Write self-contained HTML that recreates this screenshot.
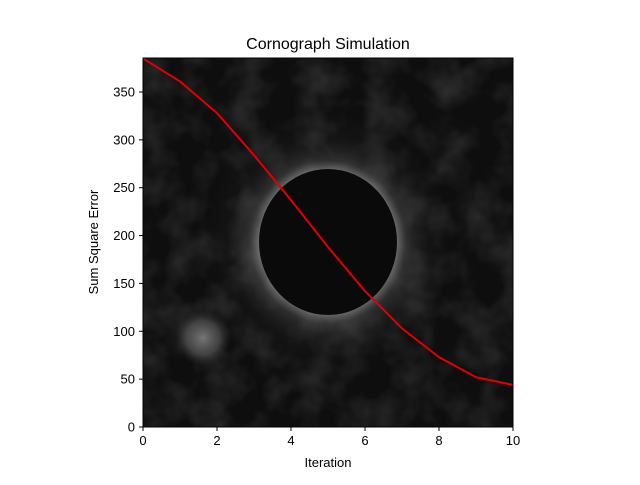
<!DOCTYPE html>
<html><head><meta charset="utf-8"><style>
body{margin:0;background:#fff;}
svg text{font-family:"Liberation Sans","DejaVu Sans",sans-serif;fill:#000;}
</style></head><body>
<svg id="chart" width="640" height="480">
<defs>
<filter id="noise" x="0" y="0" width="100%" height="100%">
<feTurbulence type="fractalNoise" baseFrequency="0.03" numOctaves="3" seed="4"/>
<feColorMatrix type="matrix" values="0 0 0 0 0.3  0 0 0 0 0.3  0 0 0 0 0.3  0 0 0 1.2 -0.45"/>
</filter>
<radialGradient id="halo" cx="50%" cy="50%" r="50%">
<stop offset="0.55" stop-color="#999" stop-opacity="0.6"/>
<stop offset="0.62" stop-color="#777" stop-opacity="0.3"/>
<stop offset="0.8" stop-color="#444" stop-opacity="0.1"/>
<stop offset="1" stop-color="#333" stop-opacity="0"/>
</radialGradient>
<radialGradient id="blob" cx="50%" cy="50%" r="50%">
<stop offset="0" stop-color="#777"/>
<stop offset="0.6" stop-color="#555" stop-opacity="0.7"/>
<stop offset="1" stop-color="#333" stop-opacity="0"/>
</radialGradient>
<clipPath id="plotclip"><rect x="143" y="58" width="370" height="369"/></clipPath>
</defs>
<g clip-path="url(#plotclip)">
<rect x="143" y="58" width="370" height="369" fill="#0e0e0e"/>
<rect x="143" y="58" width="370" height="369" filter="url(#noise)" opacity="0.35"/>
<ellipse cx="328" cy="242" rx="126" ry="132" fill="url(#halo)"/>
<ellipse cx="328" cy="242" rx="69" ry="73" fill="#0a0a0a"/>
<circle cx="203" cy="338" r="28" fill="url(#blob)"/>
</g>
<g id="ticks"></g>
<path id="line" fill="none" stroke="#e00000" stroke-width="2" clip-path="url(#plotclip)"/>
<rect x="143" y="58" width="370" height="369" fill="none" stroke="#000" stroke-width="1"/>
<text x="328" y="49" font-size="16" text-anchor="middle">Cornograph Simulation</text>
<text x="328" y="467" font-size="13" text-anchor="middle">Iteration</text>
<text transform="translate(98,242) rotate(-90)" font-size="13" text-anchor="middle">Sum Square Error</text>
</svg>
<script>
const iterations=[0,1,2,3,4,5,6,7,8,9,10];
const errors=[385,361,328,284,237,188,142,103,73,52,44];
const xTicks=[0,2,4,6,8,10];
const yTicks=[0,50,100,150,200,250,300,350];
const X0=143,X1=513,Y0=427,Y1=58,XMAX=10,YMAX=385.5;
const sx=v=>X0+(v/XMAX)*(X1-X0);
const sy=v=>Y0-(v/YMAX)*(Y0-Y1);
const ns="http://www.w3.org/2000/svg";
const g=document.getElementById('ticks');
xTicks.forEach(t=>{
 const l=document.createElementNS(ns,'line');
 l.setAttribute('x1',sx(t));l.setAttribute('x2',sx(t));l.setAttribute('y1',Y0);l.setAttribute('y2',Y0+4);l.setAttribute('stroke','#000');
 
 
 g.appendChild(l);
 const tx=document.createElementNS(ns,'text');
 tx.setAttribute('x',sx(t));tx.setAttribute('y',Y0+18);tx.setAttribute('font-size','13');tx.setAttribute('text-anchor','middle');tx.textContent=t;
 
 
 g.appendChild(tx);
});
yTicks.forEach(t=>{
 const l=document.createElementNS(ns,'line');
 l.setAttribute('x1',X0-4);l.setAttribute('x2',X0);l.setAttribute('y1',sy(t));l.setAttribute('y2',sy(t));l.setAttribute('stroke','#000');
 
 
 g.appendChild(l);
 const tx=document.createElementNS(ns,'text');
 tx.setAttribute('x',X0-8);tx.setAttribute('y',sy(t)+4.5);tx.setAttribute('font-size','13');tx.setAttribute('text-anchor','end');tx.textContent=t;
 
 
 g.appendChild(tx);
});
document.getElementById('line').setAttribute('d',iterations.map((x,i)=>(i?'L':'M')+sx(x)+','+sy(errors[i])).join(' '));
</script>
</body></html>
